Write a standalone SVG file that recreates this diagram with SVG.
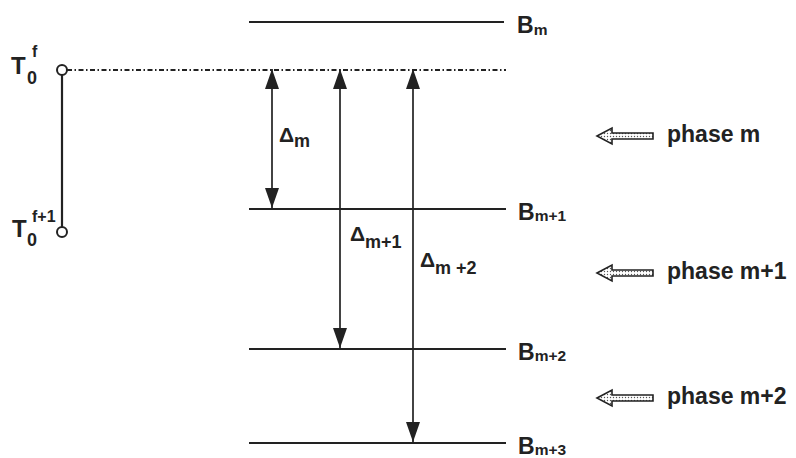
<svg xmlns="http://www.w3.org/2000/svg" width="796" height="458" viewBox="0 0 796 458">
<defs>
  <style>
    .ln { stroke:#222; stroke-width:2.2; fill:none; }
    .sh { stroke:#222; stroke-width:1.7; fill:none; }
    .t { font-family:"Liberation Sans", Arial, sans-serif; font-weight:bold; fill:#222; }
    .big { font-size:23px; }
    .sub { font-size:15.5px; }
    .tt { font-size:24px; }
    .t0 { font-size:18px; }
    .tf { font-size:16px; }
    .d { font-size:21px; }
    .ds { font-size:18px; }
    .ph { font-size:23px; }
    .pa { stroke:#222; stroke-width:1.6; fill:url(#dots); }
  </style>
  <pattern id="dots" width="3" height="3" patternUnits="userSpaceOnUse">
    <rect width="3" height="3" fill="#ffffff"/>
    <circle cx="1.5" cy="1.5" r="0.7" fill="#555"/>
  </pattern>
  <marker id="ah2" viewBox="0 0 20 14" refX="20" refY="7" markerWidth="20" markerHeight="14" markerUnits="userSpaceOnUse" orient="auto-start-reverse">
    <path d="M0,0 L20,7 L0,14 Z" fill="#222"/>
  </marker>
</defs>
<rect width="796" height="458" fill="#ffffff"/>

<g id="time-axis">
  <line class="ln" x1="62" y1="75" x2="62" y2="227"/>
  <circle cx="62" cy="70" r="5" fill="#fff" stroke="#222" stroke-width="2"/>
  <circle cx="62" cy="232" r="5" fill="#fff" stroke="#222" stroke-width="2"/>
</g>
<g id="T0f">
  <text class="t tt" x="11" y="74">T</text>
  <text class="t t0" x="27" y="84">0</text>
  <text class="t tf" x="32" y="57">f</text>
</g>
<g id="T0f1">
  <text class="t tt" x="12" y="237">T</text>
  <text class="t t0" x="27" y="246">0</text>
  <text class="t tf" x="32" y="222">f+1</text>
</g>

<g id="front-line">
  <line x1="67" y1="70" x2="506" y2="70" stroke="#222" stroke-width="2" stroke-dasharray="5 2.5 1.5 2.5"/>
</g>

<g id="Bm">
  <line class="ln" x1="249" y1="22" x2="504" y2="22"/>
  <text class="t big" x="517" y="33">B<tspan class="sub" dy="2">m</tspan></text>
</g>
<g id="Bm1">
  <line class="ln" x1="249" y1="209" x2="506" y2="209"/>
  <text class="t big" x="518" y="220">B<tspan class="sub" dy="1">m+1</tspan></text>
</g>
<g id="Bm2">
  <line class="ln" x1="249" y1="349" x2="506" y2="349"/>
  <text class="t big" x="518" y="360">B<tspan class="sub" dy="1">m+2</tspan></text>
</g>
<g id="Bm3">
  <line class="ln" x1="249" y1="443" x2="506" y2="443"/>
  <text class="t big" x="518" y="454">B<tspan class="sub" dy="1">m+3</tspan></text>
</g>

<g id="connectors">
  <line class="sh" x1="272" y1="69" x2="272" y2="208" marker-start="url(#ah2)" marker-end="url(#ah2)"/>
  <line class="sh" x1="340" y1="69" x2="340" y2="348" marker-start="url(#ah2)" marker-end="url(#ah2)"/>
  <line class="sh" x1="413" y1="69" x2="413" y2="442" marker-start="url(#ah2)" marker-end="url(#ah2)"/>
</g>

<g id="delta-m">
  <text class="t d" x="279" y="142">Δ<tspan class="ds" dy="5">m</tspan></text>
</g>
<g id="delta-m1">
  <text class="t d" x="350" y="241">Δ<tspan class="ds" dy="7">m+1</tspan></text>
</g>
<g id="delta-m2">
  <text class="t d" x="420" y="267">Δ<tspan class="ds" dy="7">m +2</tspan></text>
</g>

<g id="phase-m">
  <path class="pa" d="M597,136 L612,128 L612,133 L653,133 L653,139 L612,139 L612,144 Z"/>
  <text class="t ph" x="667" y="142">phase m</text>
</g>
<g id="phase-m1">
  <path class="pa" d="M597,273 L612,265 L612,270 L653,270 L653,276 L612,276 L612,281 Z"/>
  <text class="t ph" x="667" y="279">phase m+1</text>
</g>
<g id="phase-m2">
  <path class="pa" d="M597,398 L612,390 L612,395 L653,395 L653,401 L612,401 L612,406 Z"/>
  <text class="t ph" x="667" y="404">phase m+2</text>
</g>
</svg>
